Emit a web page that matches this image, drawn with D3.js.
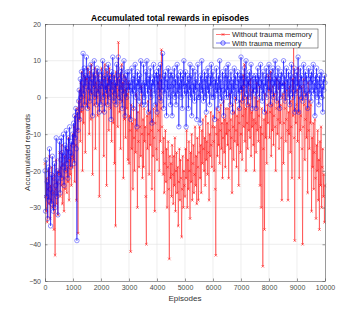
<!DOCTYPE html>
<html lang="en">
<head>
<meta charset="UTF-8">
<title>Accumulated total rewards in episodes</title>
<script src="https://d3js.org/d3.v7.min.js"></script>
<style>
    body { margin: 0; background: #fff; font-family: "Liberation Sans", Arial, sans-serif; }
    .grid line { stroke: #e3e3e3; stroke-width: 0.6; }
    .axis text { fill: #4d4d4d; font-size: 7px; }
    .axis path, .axis line { stroke: #555; stroke-width: 0.6; }
</style>
</head>
<body>
<div id="chart"></div>
<script>
    // episodes are sampled every 20, one row = 500 episodes
    const step = 20;

    const withoutTrauma = [
        -18, -27, -31, -22, -34, -25, -20, -29, -16, -33, -24, -28, -19, -30, -22, -26, -36, -21, -43, -25, -17, -29, -23, -32, -20,
        -21, -15, -27, -19, -24, -13, -29, -18, -22, -31, -16, -25, -20, -14, -26, -19, -23, -11, -28, -17, -21, -13, -24, -16, -19,
        -10, -17, -8, -23, -5, -13, -28, -3, -9, -37, -1, -6, 2, -12, 4, -4, 7, -20, 3, -7, 6, 0, -15, 5, -2,
        5, 8, -3, 4, -10, 7, 2, -6, 9, 1, -21, 6, 3, -2, 8, -14, 4, 0, 7, -5, 2, 6, -27, 3, -1,
        4, 8, -4, 6, 1, -16, 5, 9, -2, 3, -24, 7, 0, 5, -9, 8, 2, -3, 6, -12, 4, 1, -7, 6, -18,
        3, -35, 7, 0, 5, -8, 15, 2, -4, 6, -14, 3, 9, -1, 4, -22, 6, -6, 2, -11, 5, -3, 1, -17, 4,
        -18, -5, -9, -42, -2, -14, -7, -25, -3, -11, -20, -6, -15, 1, -9, -30, -4, -12, -19, -2, -8, -16, 3, -10, -22,
        -6, -19, -3, -12, -8, -27, -40, -5, -14, -1, -10, -21, -4, -13, 2, -9, -25, -6, -16, -3, -11, -31, -7, -2, -14,
        -17, -5, 4, -9, -20, 6, -12, -3, 13, -8, -15, -21, -11, -26, -18, -9, -23, -14, -30, -19, -12, -25, -44, -16, -22,
        -18, -27, -13, -21, -29, -16, -24, -11, -31, -20, -15, -26, -19, -35, -23, -14, -28, -17, -22, -38, -25, -16, -30, -20, -24,
        -27, -14, -22, -9, -30, -17, -25, -12, -20, -33, -15, -23, -10, -28, -18, -13, -26, -21, -8, -24, -16, -29, -11, -19, -28,
        -15, -8, -22, -13, -26, -9, -18, -6, -14, -20, -11, -24, -5, -17, -12, -21, -7, -15, -28, -10, -16, -4, -13, -19, -8,
        -5, -12, -20, -8, -25, -43, -10, -3, -16, -6, -13, -4, -18, -9, -2, -14, -7, -22, -11, -1, -15, -6, -19, -3, -10,
        -7, -13, -3, -22, -9, 1, -14, -6, -11, -26, -2, -8, -17, -4, -12, 0, -9, -19, -5, -13, -3, -24, -7, -1, -15,
        -10, 3, -17, -5, 6, -8, 9, -12, -3, -20, 0, -7, -14, 4, -9, -2, -11, 5, -16, -4, -8, 2, -13, -6, -20,
        0, -7, -15, 4, -9, -1, -12, -5, 3, -24, -8, -30, -3, -10, -46, -14, -6, -36, 1, -11, -4, -18, -2, -7, 6,
        2, -11, -4, 7, -16, -2, -9, 3, -13, -5, 1, -8, -20, -3, 5, -10, -6, -1, -14, 4, -7, -2, -11, -28, 0,
        1, -18, -7, 4, -3, -12, -6, 2, -9, -28, -4, -10, 3, -15, -1, -8, -22, 5, -5, 17, -11, -39, -3, -7, -2,
        2, -12, 8, -4, -22, 0, -9, -5, 3, -14, -40, -8, 5, -2, -17, -6, 1, -11, -3, -26, 4, -9, -14, -1, -7,
        -2, -31, -11, -19, -7, -25, -15, -6, -22, -33, -13, -20, -9, -28, -17, -36, -12, -24, -8, -30, -19, -14, -27, -21, -34,
        -24
    ];

    const withTrauma = [
        -20, -31, -17, -27, -23, -33, -19, -28, -14, -25, -35, -21, -29, -16, -26, -31, -22, -18, -30, -24, -11, -27, -20, -32, -23,
        -21, -12, -26, -17, -11, -22, -15, -19, -10, -24, -16, -13, -20, -9, -18, -14, -22, -11, -17, -8, -15, -19, -12, -16, -10,
        -13, -7, -18, -5, -11, -3, -14, -39, -4, -9, -1, 2, -6, 5, 0, 7, -3, 4, 12, 1, 8, -2, 6, 3, 11,
        5, -3, 8, 2, 6, -1, 4, 9, 1, 5, -5, 7, 3, 10, 0, 6, 2, -2, 8, 4, 1, 7, -4, 5, 3,
        -2, 7, 3, 10, 0, 5, -4, 6, 2, 8, 1, 4, -2, 9, 3, 6, 0, 5, -6, 7, 2, 11, 4, -1, 6,
        1, 4, -2, 9, 3, 6, 11, 0, 5, -1, 7, 2, 8, -3, 4, 1, 10, 5, -5, 6, 3, 0, 7, 2, 4,
        7, 2, 4, -6, 3, 8, 1, 5, -3, 6, 2, 9, 0, 4, -8, 7, 3, 5, -1, 6, 2, 10, 1, 4, -2,
        2, 9, 0, 4, -2, 7, 3, 10, 1, 5, -4, 6, 2, 8, 0, 4, -7, 5, 3, 9, 1, 6, -2, 4, 7,
        -4, 6, 2, 8, 0, 4, 9, -1, 5, 2, 12, 3, -3, 6, 1, 7, 4, -5, 5, 2, 8, 0, 3, 6, -2,
        7, 3, -5, 6, 1, 4, 8, 0, 5, -2, 3, 9, 1, 6, -8, 4, 2, 7, 0, 5, -3, 6, 3, 10, 1,
        3, 7, -8, 4, 1, 6, -3, 5, 2, 9, 0, 6, -5, 3, 8, 1, 4, -1, 7, 2, 5, -6, 3, 9, 0,
        0, 4, -7, 6, 2, 10, 1, 5, -1, 3, 7, 0, 5, -4, 6, 2, 8, 1, 4, -2, 6, 3, 9, 0, 5,
        7, 0, 4, -6, 5, 2, 8, 1, 4, -3, 6, 2, 10, 0, 5, -1, 3, 7, 2, -5, 6, 1, 4, 8, 0,
        6, 2, 9, 0, 5, 3, -2, 7, 1, 4, -4, 5, 2, 8, 0, 6, 3, -1, 4, 7, 1, 5, -3, 6, 2,
        11, 2, 6, -1, 5, 3, 8, 0, 4, 10, 1, 6, -2, 5, 3, 7, 0, 4, 9, 2, -3, 6, 1, 5, 3,
        2, 6, -3, 5, 1, 8, 3, 6, 0, 4, 9, 2, 5, -1, 7, 1, 4, -4, 6, 3, 8, 0, 5, 2, 6,
        9, 2, 5, -2, 7, 1, 4, 8, 0, 5, 3, 10, 1, 6, -1, 4, 8, 2, 5, -3, 6, 0, 7, 3, 4,
        3, 10, 1, 6, -1, 4, 8, 2, 5, 0, 7, 3, -2, 6, 1, 9, 4, 0, 5, 2, 8, -4, 6, 1, 4,
        7, 3, 11, -4, 5, 2, 8, 0, 6, 3, -1, 5, 9, 1, 4, 7, 0, 6, 2, -3, 5, 8, 1, 4, 6,
        -1, 7, 2, 5, 9, 1, 4, -5, 6, 2, 8, 0, 5, 3, -2, 6, 1, 4, 7, 0, 3, -4, 5, 2, 6,
        4
    ];

    const xTicks = [0, 1000, 2000, 3000, 4000, 5000, 6000, 7000, 8000, 9000, 10000];
    const yTicks = [-50, -40, -30, -20, -10, 0, 10, 20];
    const seriesNames = ["Without trauma memory", "With trauma memory"];

    const width = 360, height = 316;
    const margin = { top: 24, right: 35, bottom: 35, left: 45 };
    const innerW = width - margin.left - margin.right;
    const innerH = height - margin.top - margin.bottom;

    const svg = d3.select("#chart").append("svg")
        .attr("width", width)
        .attr("height", height);

    const g = svg.append("g")
        .attr("transform", `translate(${margin.left},${margin.top})`);

    const x = d3.scaleLinear().domain([0, 10000]).range([0, innerW]);
    const y = d3.scaleLinear().domain([-50, 20]).range([innerH, 0]);

    // grid
    const grid = g.append("g").attr("class", "grid");
    grid.selectAll(".gx").data(xTicks.slice(1, -1)).join("line")
        .attr("x1", d => x(d)).attr("x2", d => x(d))
        .attr("y1", 0).attr("y2", innerH);
    grid.selectAll(".gy").data(yTicks.slice(1, -1)).join("line")
        .attr("x1", 0).attr("x2", innerW)
        .attr("y1", d => y(d)).attr("y2", d => y(d));

    const redData = withoutTrauma.map((v, i) => [i * step, v]);
    const blueData = withTrauma.map((v, i) => [i * step, v]);

    const line = d3.line().x(d => x(d[0])).y(d => y(d[1]));
    const xm = 1.3;
    const cross = (cx, cy) => `M${cx - xm},${cy - xm}L${cx + xm},${cy + xm}M${cx - xm},${cy + xm}L${cx + xm},${cy - xm}`;

    // red series
    g.append("path").datum(redData)
        .attr("fill", "none")
        .attr("stroke", "#ff0000")
        .attr("stroke-opacity", 0.55)
        .attr("stroke-width", 0.8)
        .attr("d", line);
    g.append("g").selectAll("path").data(redData).join("path")
        .attr("d", d => cross(x(d[0]), y(d[1])))
        .attr("stroke", "#ff0000")
        .attr("stroke-opacity", 0.85)
        .attr("stroke-width", 0.6);

    // blue series
    g.append("path").datum(blueData)
        .attr("fill", "none")
        .attr("stroke", "#0000ff")
        .attr("stroke-opacity", 0.65)
        .attr("stroke-width", 0.8)
        .attr("d", line);
    g.append("g").selectAll("circle").data(blueData).join("circle")
        .attr("cx", d => x(d[0]))
        .attr("cy", d => y(d[1]))
        .attr("r", 2.2)
        .attr("fill", "none")
        .attr("stroke", "#0000ff")
        .attr("stroke-opacity", 0.7)
        .attr("stroke-width", 0.6);

    // axes
    g.append("g").attr("class", "axis")
        .attr("transform", `translate(0,${innerH})`)
        .call(d3.axisBottom(x).tickValues(xTicks).tickFormat(d3.format("d")).tickSizeInner(-2.5).tickSizeOuter(0).tickPadding(4));
    g.append("g").attr("class", "axis")
        .call(d3.axisLeft(y).tickValues(yTicks).tickSizeInner(-2.5).tickSizeOuter(0).tickPadding(4));
    g.append("g").attr("class", "axis")
        .call(d3.axisTop(x).tickValues(xTicks).tickFormat("").tickSizeInner(-2.5).tickSizeOuter(0));
    g.append("g").attr("class", "axis")
        .attr("transform", `translate(${innerW},0)`)
        .call(d3.axisRight(y).tickValues(yTicks).tickFormat("").tickSizeInner(-2.5).tickSizeOuter(0));

    // labels
    svg.append("text")
        .attr("x", 170).attr("y", 21)
        .attr("text-anchor", "middle")
        .attr("font-size", 8.5).attr("font-weight", "bold")
        .attr("fill", "#000")
        .text("Accumulated total rewards in episodes");
    svg.append("text")
        .attr("x", margin.left + innerW / 2).attr("y", 301)
        .attr("text-anchor", "middle")
        .attr("font-size", 8).attr("fill", "#333")
        .text("Episodes");
    svg.append("text")
        .attr("transform", `translate(30,${margin.top + innerH / 2}) rotate(-90)`)
        .attr("text-anchor", "middle")
        .attr("font-size", 8).attr("fill", "#333")
        .text("Accumulated rewards");

    // legend
    const lg = svg.append("g").attr("transform", "translate(213,29)");
    lg.append("rect").attr("width", 105).attr("height", 19)
        .attr("fill", "#fff").attr("stroke", "#333").attr("stroke-width", 0.5);
    seriesNames.forEach((name, i) => {
        const ly = 5.5 + i * 8.5;
        const col = i === 0 ? "#ff0000" : "#0000ff";
        lg.append("line").attr("x1", 3).attr("x2", 17).attr("y1", ly).attr("y2", ly)
            .attr("stroke", col).attr("stroke-opacity", 0.6).attr("stroke-width", 0.9);
        if (i === 0) {
            lg.append("path").attr("d", cross(10, ly))
                .attr("stroke", col).attr("stroke-width", 0.6);
        } else {
            lg.append("circle").attr("cx", 10).attr("cy", ly).attr("r", 2.2)
                .attr("fill", "none").attr("stroke", col).attr("stroke-width", 0.6);
        }
        lg.append("text").attr("x", 19).attr("y", ly + 2.6)
            .attr("font-size", 7.5).attr("fill", "#222")
            .text(name);
    });
</script>
</body>
</html>
